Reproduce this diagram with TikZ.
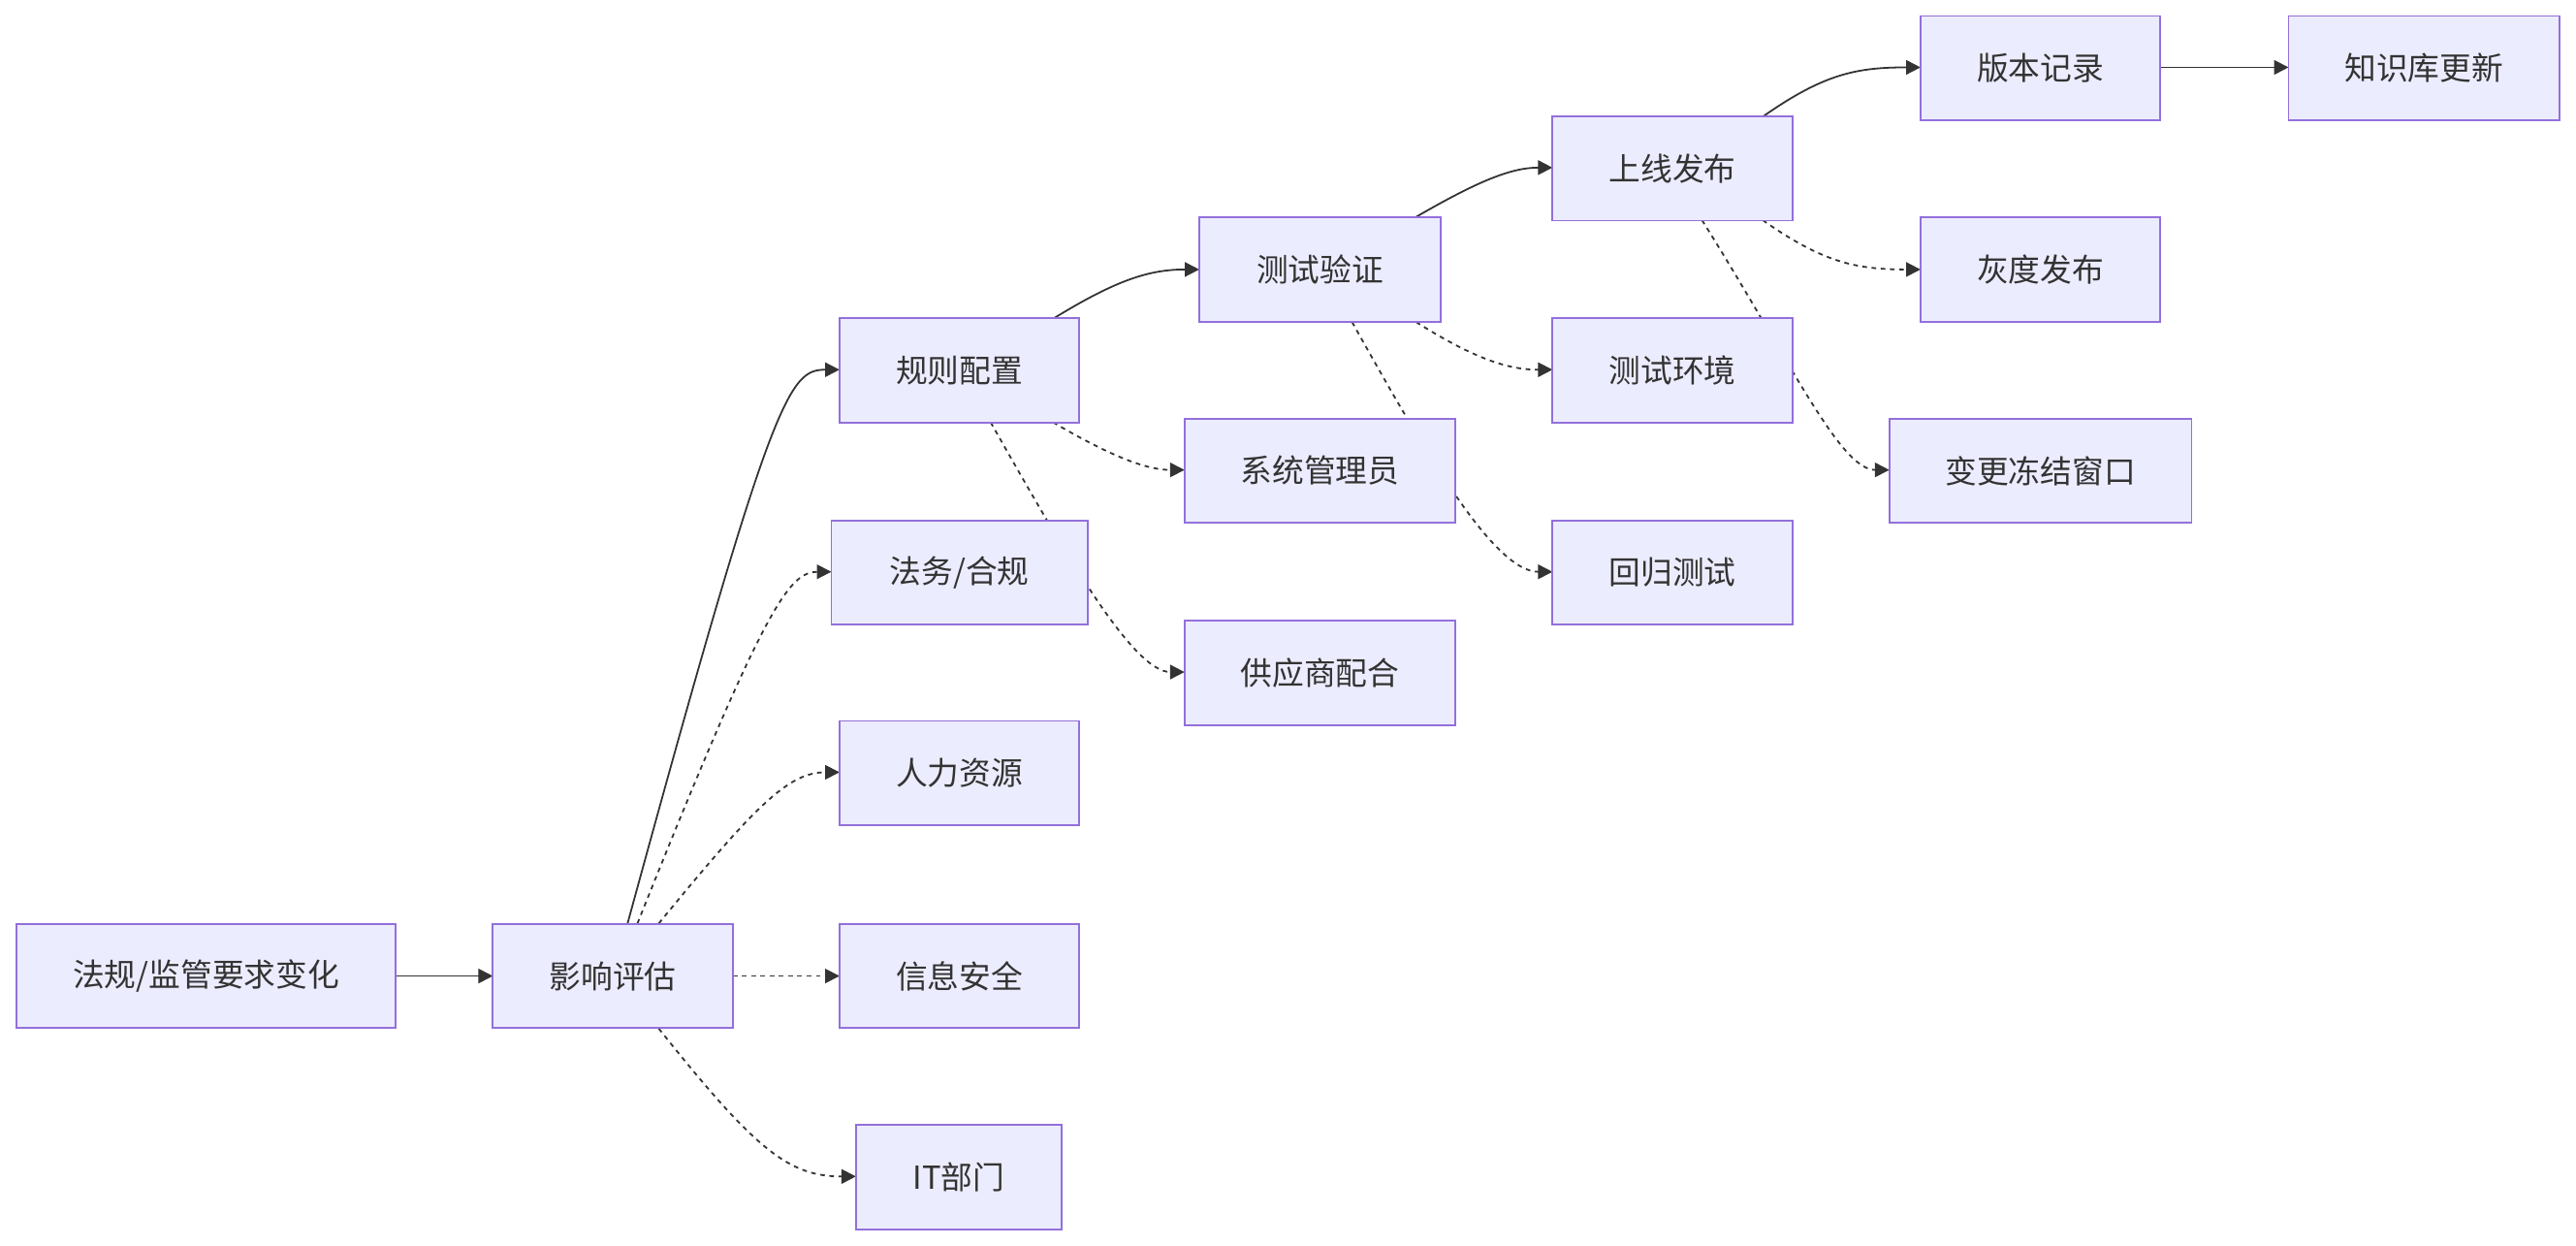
\documentclass[tikz,border=0pt]{standalone}
\usepackage{fontspec}
\setmainfont{Noto Sans CJK SC}
\usetikzlibrary{arrows.meta}
\definecolor{nfill}{HTML}{ECECFF}
\definecolor{nbord}{HTML}{9370DB}
\definecolor{ln}{HTML}{333333}
\begin{document}
\begin{tikzpicture}[x=0.02cm,y=-0.02cm,
 box/.style={draw=nbord,fill=nfill,line width=0.6pt,minimum height=1.27cm,inner sep=0pt,font=\fontsize{11pt}{13pt}\selectfont,text=ln},
 e/.style={draw=ln,line width=0.6pt,-{Triangle[length=5pt,width=5pt]}},
 d/.style={e,dash pattern=on 1.6pt off 1.6pt}]
\useasboundingbox (0,0) rectangle (1568,758);
\fill[white] (0,0) rectangle (1568,758);
% edges first
\coordinate (a1) at (382,562); \coordinate (a2) at (388,562); \coordinate (a3) at (401,562); \coordinate (a4) at (401,626);
\draw[e] (a1) .. controls (470,240) and (480,225) .. (511,225);
\draw[d] (a2) .. controls (465,370) and (480,348) .. (506,348);
\draw[d] (a3) .. controls (460,490) and (480,470) .. (511,470);
\draw[d] (a4) .. controls (460,700) and (480,716) .. (521,716);
\draw[d] (446,594) -- (511,594);
\draw[e] (241,594) -- (300,594);
\draw[e] (641,194) .. controls (680,170) and (700,164) .. (730,164);
\draw[d] (641,257) .. controls (680,280) and (700,286) .. (721,286);
\draw[d] (603,257) .. controls (650,340) and (690,409) .. (721,409);
\draw[e] (862,132) .. controls (900,110) and (920,102) .. (945,102);
\draw[d] (862,196) .. controls (900,220) and (920,225) .. (945,225);
\draw[d] (823,196) .. controls (870,280) and (910,348) .. (945,348);
\draw[e] (1073,71) .. controls (1110,45) and (1130,41) .. (1169,41);
\draw[d] (1073,134) .. controls (1110,160) and (1130,164) .. (1169,164);
\draw[d] (1036,134) .. controls (1090,220) and (1120,286) .. (1150,286);
\draw[e] (1315,41) -- (1393,41);
% nodes
\node[box,minimum width=4.62cm] (law) at (125.5,594) {法规/监管要求变化};
\node[box,minimum width=2.92cm] (imp) at (373,594) {影响评估};
\node[box,minimum width=2.92cm] (rule) at (584,225.5) {规则配置};
\node[box,minimum width=3.12cm] (legal) at (584,348.5) {法务/合规};
\node[box,minimum width=2.92cm] (hr) at (584,470.5) {人力资源};
\node[box,minimum width=2.92cm] (sec) at (584,594) {信息安全};
\node[box,minimum width=2.5cm] (it) at (583.5,716.5) {IT部门};
\node[box,minimum width=2.94cm] (test) at (803.5,164) {测试验证};
\node[box,minimum width=3.3cm] (admin) at (803.5,286.5) {系统管理员};
\node[box,minimum width=3.3cm] (vend) at (803.5,409.5) {供应商配合};
\node[box,minimum width=2.92cm] (rel) at (1018,102.5) {上线发布};
\node[box,minimum width=2.92cm] (env) at (1018,225.5) {测试环境};
\node[box,minimum width=2.92cm] (reg) at (1018,348.5) {回归测试};
\node[box,minimum width=2.92cm] (ver) at (1242,41.5) {版本记录};
\node[box,minimum width=2.92cm] (gray) at (1242,164) {灰度发布};
\node[box,minimum width=3.68cm] (frz) at (1242,286.5) {变更冻结窗口};
\node[box,minimum width=3.3cm] (kb) at (1475.5,41.5) {知识库更新};
\end{tikzpicture}
\end{document}
